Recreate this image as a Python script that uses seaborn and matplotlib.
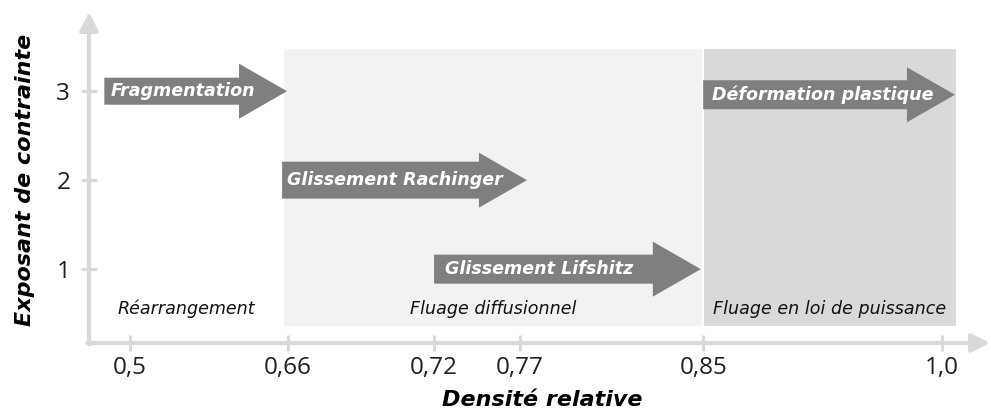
import numpy as np
import matplotlib
matplotlib.use("Agg")
import matplotlib.pyplot as plt
import seaborn as sns
from matplotlib.patches import FancyArrowPatch

# ---------------- data ----------------
density_ticks = [0.5, 0.66, 0.72, 0.77, 0.85, 1.0]
density_tick_labels = ["0,5", "0,66", "0,72", "0,77", "0,85", "1,0"]
exponent_ticks = [1, 2, 3]
exponent_tick_labels = ["1", "2", "3"]

mechanisms = ["Fragmentation", "Glissement Rachinger",
              "Glissement Lifshitz", "Déformation plastique"]
mech_start = [0.474, 0.654, 0.72, 0.85]
mech_end = [0.659, 0.773, 0.849, 1.008]
mech_exponent = [3.0, 2.0, 1.0, 2.96]

regimes = ["Réarrangement", "Fluage diffusionnel", "Fluage en loi de puissance"]
regime_start = [0.4585, 0.655, 0.85]
regime_end = [0.655, 0.85, 1.009]
regime_low, regime_high = 0.35, 3.49

# ---------------- style ----------------
sns.set_theme(style="white")
plt.rcParams["font.family"] = ["DejaVu Sans"]

DPI = 100
PX = 72.0 / DPI  # points per pixel
arrow_color = "#7f7f7f"
region_colors = [None, "#f2f2f2", "#d9d9d9"]
axis_color = "#d9d9d9"
body_px = [27, 37, 29, 29]
head_px = 55
head_len_px = 48
text_pad_px = [6, 5, 11, 9]

# schematic (piecewise-linear) density axis
knot_val = [0.3, 0.5, 0.66, 0.72, 0.77, 0.85, 1.0, 1.2]
knot_pos = [-67.5, 130, 288, 434, 520, 703, 942, 1260.6]


def fwd(v):
    return np.interp(v, knot_val, knot_pos)


def inv(p):
    return np.interp(p, knot_pos, knot_val)


fig = plt.figure(figsize=(9.91, 4.19), dpi=DPI)
ax = fig.add_axes([89 / 991, 1 - 343 / 419, (990 - 89) / 991, (343 - 12) / 419])
ax.set_xscale("function", functions=(fwd, inv))
ax.set_xlim(0.4585, 1.030)
ax.set_ylim(0.17, 3.89)
ax.set_facecolor("white")
sns.despine(ax=ax, left=True, bottom=True, top=True, right=True)

# regimes (background bands + labels)
for name, a, b, c in zip(regimes, regime_start, regime_end, region_colors):
    if c is not None:
        ax.fill_between([a, b], regime_low, regime_high, color=c,
                        edgecolor="white", linewidth=1.5, zorder=1)
    xm = inv((fwd(a) + fwd(b)) / 2.0)
    ax.text(xm, 0.55, name, ha="center", va="center", fontsize=12.6,
            style="italic", color="#111111", zorder=5)

# mechanism arrows
for i, (name, a, b, y) in enumerate(zip(mechanisms, mech_start, mech_end, mech_exponent)):
    style = "simple,head_length={:.2f},head_width={:.2f},tail_width={:.2f}".format(
        head_len_px * PX, head_px * PX, body_px[i] * PX)
    arr = FancyArrowPatch((a, y), (b, y), arrowstyle=style, mutation_scale=1,
                          color=arrow_color, shrinkA=0, shrinkB=0, zorder=3,
                          linewidth=0)
    ax.add_patch(arr)
    ax.annotate(name, xy=(a, y), xytext=(text_pad_px[i] * PX, 0),
                textcoords="offset points", ha="left", va="center",
                fontsize=12.6, fontweight="bold", style="italic",
                color="white", zorder=4)

# axis lines with arrow heads
for xy, xytext in [((1, 0), (-0.002, 0)), ((0, 1), (0, -0.004))]:
    ax.annotate("", xy=xy, xytext=xytext, xycoords="axes fraction",
                arrowprops=dict(arrowstyle="-|>,head_length=0.55,head_width=0.28",
                                color=axis_color, lw=3, shrinkA=0, shrinkB=0,
                                mutation_scale=20),
                annotation_clip=False, zorder=2)

# ticks
ax.set_xticks(density_ticks)
ax.set_xticklabels(density_tick_labels)
ax.set_yticks(exponent_ticks)
ax.set_yticklabels(exponent_tick_labels)
ax.xaxis.set_minor_locator(matplotlib.ticker.NullLocator())
ax.tick_params(axis="both", direction="inout", length=11, width=2.2,
               color=axis_color, labelcolor="#1f1f1f", labelsize=17.5)
ax.tick_params(axis="x", pad=4, bottom=True)
ax.tick_params(axis="y", pad=8, left=True)
for lab in ax.get_xticklabels() + ax.get_yticklabels():
    lab.set_family(["Open Sans", "DejaVu Sans"])
ax.grid(False)

# axis titles
ax.set_xlabel("Densité relative", fontsize=16, fontweight="bold", style="italic",
              color="black")
ax.set_ylabel("Exposant de contrainte", fontsize=16, fontweight="bold",
              style="italic", color="black")
ax.xaxis.set_label_coords(0.5028, -0.172)
ax.xaxis.label.set_va("center")
ax.yaxis.set_label_coords(-0.071, 0.4925)
ax.yaxis.label.set_va("center")
ax.yaxis.label.set_ha("center")

fig.savefig("out.png", dpi=DPI, facecolor="white")
